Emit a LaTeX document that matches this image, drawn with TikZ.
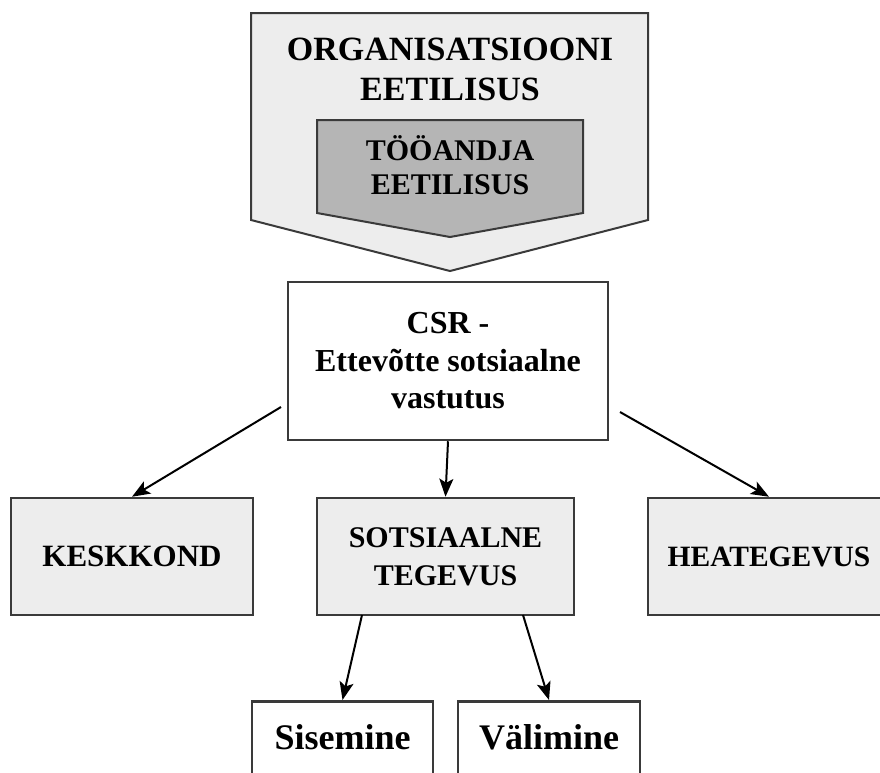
\documentclass[tikz,border=0pt]{standalone}
\usepackage{fontspec}
\setmainfont{Liberation Serif}
\usepackage{tikz}
\usetikzlibrary{arrows.meta}
\definecolor{boxgray}{HTML}{EDEDED}
\definecolor{innergray}{HTML}{B5B5B5}
\definecolor{edgegray}{HTML}{3A3A3A}

\begin{document}
\begin{tikzpicture}[x=1pt, y=-1pt,
		every node/.style={align=center},
		box/.style={draw=edgegray, line width=2.5pt, fill=boxgray, inner sep=0pt},
		plain/.style={draw=edgegray, line width=2.5pt, fill=white, inner sep=0pt},
		arr/.style={draw=black, line width=2pt, -{Stealth[length=18pt,width=14pt,inset=4pt]}}]
		\useasboundingbox (0,0) rectangle (880,772);
		\clip (0,0) rectangle (880,772);
		% organisation ethics
		\draw[fill=boxgray, draw=edgegray, line width=2pt] (251,13) -- (648,13) -- (648,220) -- (450,271) -- (251,220) -- cycle;
		\node[font=\bfseries\fontsize{34pt}{40pt}\selectfont] (org) at (450,69) {ORGANISATSIOONI\\EETILISUS};
		% employer ethics
		\draw[fill=innergray, draw=edgegray, line width=2pt] (317,120) -- (583,120) -- (583,213) -- (450,237) -- (317,213) -- cycle;
		\node[font=\bfseries\fontsize{30pt}{34pt}\selectfont] (emp) at (450,165) {TÖÖANDJA\\EETILISUS};
		% csr
		\node[plain, minimum width=320pt, minimum height=158pt, font=\bfseries\fontsize{32pt}{37.5pt}\selectfont] (csr) at (448,361) {CSR -\\Ettevõtte sotsiaalne\\vastutus};
		% fields
		\node[box, minimum width=242pt, minimum height=117pt, font=\bfseries\fontsize{31pt}{36pt}\selectfont] (kesk) at (132,556.5) {KESKKOND};
		\node[box, minimum width=257pt, minimum height=117pt, font=\bfseries\fontsize{30pt}{38pt}\selectfont] (sots) at (445.5,556.5) {SOTSIAALNE\\TEGEVUS};
		\node[box, minimum width=242pt, minimum height=117pt, font=\bfseries\fontsize{29.5pt}{36pt}\selectfont] (heat) at (769,556.5) {HEATEGEVUS};
		% inner and outer
		\node[plain, anchor=north, minimum width=181pt, text height=25pt, text depth=30pt, inner ysep=23pt, font=\bfseries\fontsize{36pt}{40pt}\selectfont] (sise) at (342.5,700) {Sisemine};
		\node[plain, anchor=north, minimum width=182pt, text height=25pt, text depth=30pt, inner ysep=23pt, font=\bfseries\fontsize{36pt}{40pt}\selectfont] (vali) at (549,700) {Välimine};
		% arrows
		\coordinate (ck) at (281,407);
		\coordinate (ch) at (620,412);
		\coordinate (ss) at (362,615);
		\coordinate (sv) at (523,615);
		\draw[arr] (ck) -- (kesk.north);
		\draw[arr] (csr.south) -- (sots.north);
		\draw[arr] (ch) -- (heat.north);
		\draw[arr] (ss) -- (sise.north);
		\draw[arr] (sv) -- (vali.north);
	\end{tikzpicture}
\end{document}
